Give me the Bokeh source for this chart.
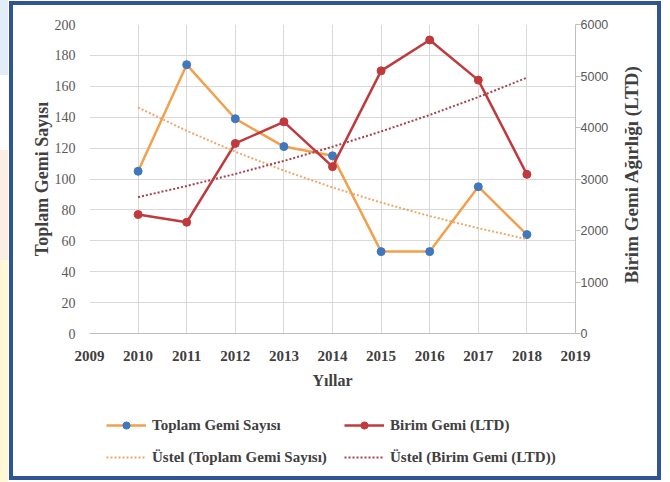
import math
import numpy as np
from bokeh.plotting import figure
from bokeh.layouts import column, row
from bokeh.models import Range1d, LinearAxis, FixedTicker, Legend, LegendItem
from bokeh.core.properties import value
from bokeh.embed import file_html
from bokeh.resources import INLINE

# ---- data ----
years = [2010, 2011, 2012, 2013, 2014, 2015, 2016, 2017, 2018]
toplam_gemi = [105, 174, 139, 121, 115, 53, 53, 95, 64]
birim_gemi_ltd = [2310, 2160, 3690, 4110, 3240, 5100, 5700, 4920, 3090]
x_ticks = list(range(2009, 2020))
left_ticks = list(range(0, 201, 20))
right_ticks = list(range(0, 6001, 1000))
right_title = "Birim Gemi Ağırlığı (LTD)"

# exponential (Üstel) trendlines fitted to the series (as Excel does)
def exp_fit(xs, ys):
    b, a = np.polyfit(np.array(xs, float), np.log(np.array(ys, float)), 1)
    return [float(np.exp(a + b * x)) for x in xs]

trend_toplam = exp_fit(years, toplam_gemi)
trend_birim = exp_fit(years, birim_gemi_ltd)

ORANGE = "#f2a04c"
BLUE = "#3f78bd"
RED = "#c0393d"
ORANGE_T = "#f0a868"
RED_T = "#a5434c"
GRID = "#d9d9d9"
TXT = "#404040"
SERIF = "Liberation Serif"
FRAME = "#2f5597"

# ---------------- main chart ----------------
p = figure(width=620, height=400, output_backend="svg", toolbar_location=None,
           x_range=Range1d(2009, 2019), y_range=Range1d(0, 200),
           min_border_left=89, min_border_right=45, min_border_top=24,
           min_border_bottom=67)
p.extra_y_ranges = {"right": Range1d(0, 6000)}
p.outline_line_color = None
p.background_fill_color = "white"
p.border_fill_color = None

p.xgrid.ticker = FixedTicker(ticks=x_ticks)
p.ygrid.ticker = FixedTicker(ticks=left_ticks)
p.xgrid.grid_line_color = GRID
p.ygrid.grid_line_color = GRID

xa = p.xaxis[0]
xa.ticker = FixedTicker(ticks=x_ticks)
xa.axis_label = "Yıllar"
xa.axis_line_color = "#bfbfbf"
xa.major_tick_line_color = None
xa.minor_tick_line_color = None
xa.major_label_text_font = SERIF
xa.major_label_text_font_style = "bold"
xa.major_label_text_font_size = "15px"
xa.major_label_text_color = TXT
xa.major_label_standoff = 11
xa.axis_label_text_font = SERIF
xa.axis_label_text_font_style = "bold"
xa.axis_label_text_font_size = "16px"
xa.axis_label_text_color = TXT
xa.axis_label_standoff = 8

ya = p.yaxis[0]
ya.ticker = FixedTicker(ticks=left_ticks)
ya.axis_label = "Toplam Gemi Sayısı"
ya.axis_line_color = None
ya.major_tick_line_color = None
ya.minor_tick_line_color = None
ya.major_label_text_font = SERIF
ya.major_label_text_font_size = "14px"
ya.major_label_text_color = "#595959"
ya.major_label_standoff = 8
ya.axis_label_text_font = SERIF
ya.axis_label_text_font_style = "bold"
ya.axis_label_text_font_size = "18px"
ya.axis_label_text_color = TXT
ya.axis_label_standoff = 0

ra = LinearAxis(y_range_name="right", ticker=FixedTicker(ticks=right_ticks))
ra.axis_line_color = "#bfbfbf"
ra.major_tick_line_color = "#bfbfbf"
ra.major_tick_out = 5
ra.major_tick_in = 0
ra.minor_tick_line_color = None
ra.major_label_text_font = "Liberation Sans"
ra.major_label_text_font_size = "12.5px"
ra.major_label_text_color = "#595959"
ra.major_label_standoff = 0
p.add_layout(ra, "right")

l1 = p.line(years, toplam_gemi, line_color=ORANGE, line_width=2.5)
m1 = p.scatter(years, toplam_gemi, size=8, fill_color=BLUE, line_color=BLUE)
l2 = p.line(years, birim_gemi_ltd, line_color=RED, line_width=2.5, y_range_name="right")
m2 = p.scatter(years, birim_gemi_ltd, size=8, fill_color=RED, line_color=RED,
               y_range_name="right")
t1 = p.line(years, trend_toplam, line_color=ORANGE_T, line_width=2, line_dash="2 2")
t2 = p.line(years, trend_birim, line_color=RED_T, line_width=2, line_dash="2 2",
            y_range_name="right")

# ---------------- right axis title (reads bottom to top) ----------------
pt = figure(width=50, height=400, output_backend="svg", toolbar_location=None,
            x_range=Range1d(0, 50), y_range=Range1d(400, 0),
            x_axis_type=None, y_axis_type=None, min_border=0)
pt.outline_line_color = None
pt.background_fill_color = None
pt.border_fill_color = None
pt.grid.visible = False
pt.text(x=[11], y=[194], text=[right_title], angle=math.pi / 2,
        text_align="center", text_baseline="middle",
        text_font=value(SERIF), text_font_style="bold",
        text_font_size="19px", text_color=TXT)

# ---------------- legend strip ----------------
pl = figure(width=670, height=82, output_backend="svg", toolbar_location=None,
            x_range=Range1d(0, 670), y_range=Range1d(0, 82),
            x_axis_type=None, y_axis_type=None, min_border=0)
pl.outline_line_color = None
pl.background_fill_color = None
pl.border_fill_color = None
pl.grid.visible = False
# legend proxies (kept outside the visible range)
off_x, off_y = [-50, -40], [-50, -50]
g1 = pl.line(off_x, off_y, line_color=ORANGE, line_width=2.5)
g1m = pl.scatter(off_x, off_y, size=8, fill_color=BLUE, line_color=BLUE)
g2 = pl.line(off_x, off_y, line_color=RED, line_width=2.5)
g2m = pl.scatter(off_x, off_y, size=8, fill_color=RED, line_color=RED)
g3 = pl.line(off_x, off_y, line_color=ORANGE_T, line_width=2, line_dash="2 2")
g4 = pl.line(off_x, off_y, line_color=RED_T, line_width=2, line_dash="2 2")

legend = Legend(items=[
    LegendItem(label="Toplam Gemi Sayısı", renderers=[g1, g1m]),
    LegendItem(label="Birim Gemi (LTD)", renderers=[g2, g2m]),
    LegendItem(label="Üstel (Toplam Gemi Sayısı)", renderers=[g3]),
    LegendItem(label="Üstel (Birim Gemi (LTD))", renderers=[g4]),
], orientation="horizontal", ncols=2, location=(106, 16),
    border_line_color=None, background_fill_alpha=0,
    padding=0, margin=0, spacing=14,
    glyph_width=40, glyph_height=18, label_height=18, label_width=178,
    label_standoff=6,
    label_text_font=SERIF, label_text_font_style="bold",
    label_text_font_size="15px", label_text_color=TXT)
pl.add_layout(legend, "center")

layout = column(row(p, pt, spacing=0), pl, spacing=0)

def bar(col, x, y, w, h):
    return f"linear-gradient({col},{col}) {x}px {y}px / {w}px {h}px no-repeat"

layout.styles = {"background": ", ".join([
    bar(FRAME, 9, 1, 4, 479), bar(FRAME, 657, 1, 4, 479),
    bar(FRAME, 9, 1, 652, 4), bar(FRAME, 9, 476, 652, 4),
    bar("#e3edf8", 0, 0, 8, 75), bar("#fdeee4", 0, 150, 8, 110),
    bar("#fff8d6", 0, 260, 8, 222),
]) + ", white"}

open("out.html", "w").write(file_html(layout, INLINE))
